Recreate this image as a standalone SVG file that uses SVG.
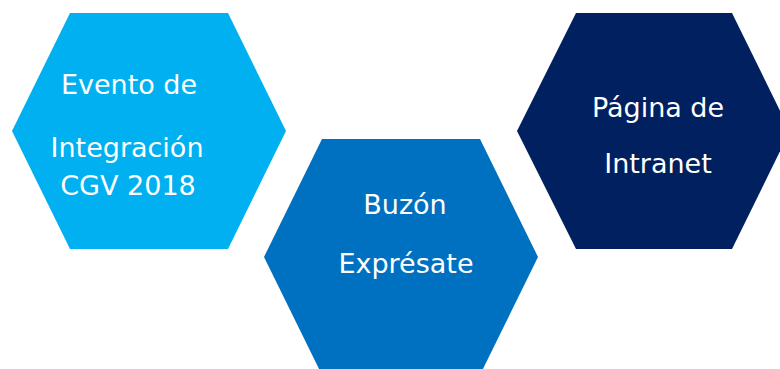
<svg xmlns="http://www.w3.org/2000/svg" width="780" height="369" viewBox="0 0 780 369">
<style>
.t{font-family:"DejaVu Sans","Liberation Sans",sans-serif;font-size:27px;fill:#fff;text-anchor:middle}
</style>
<rect width="780" height="369" fill="#fff"/>
<g id="hex1">
<polygon points="12,131 70,13 228,13 286,131 228,249 70,249" fill="#00B0F0"/>
<text class="t" x="129" y="94">Evento de</text>
<text class="t" x="127" y="157">Integración</text>
<text class="t" x="128" y="195">CGV 2018</text>
</g>
<g id="hex2">
<polygon points="264,257 322,139 480,139 538,257 480,375 322,375" fill="#0070C0"/>
<text class="t" x="405" y="214">Buzón</text>
<text class="t" x="406" y="273">Exprésate</text>
</g>
<g id="hex3">
<polygon points="517,131 576,13 732,13 790,131 732,249 576,249" fill="#002060"/>
<text class="t" x="658" y="117">Página de</text>
<text class="t" x="658" y="173">Intranet</text>
</g>
<g id="connectors"/>
</svg>
